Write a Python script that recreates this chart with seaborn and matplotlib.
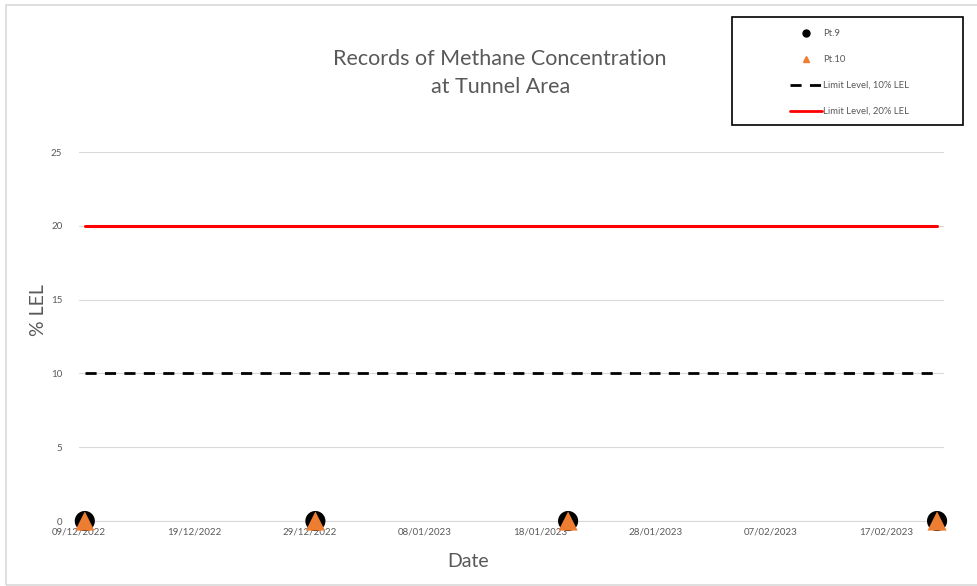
import pandas as pd
import matplotlib.pyplot as plt
import matplotlib.dates as mdates
import seaborn as sns
from matplotlib.lines import Line2D
from matplotlib.patches import Rectangle

# sampling dates and readings (% LEL)
dates = pd.to_datetime(['2022-12-09 12:00', '2022-12-29 12:00',
                        '2023-01-20 10:00', '2023-02-21 10:00'])
pt9 = [0, 0, 0, 0]
pt10 = [0, 0, 0, 0]
limit_10 = [10, 10, 10, 10]
limit_20 = [20, 20, 20, 20]

df = pd.DataFrame({'Date': dates, 'Pt.9': pt9, 'Pt.10': pt10,
                   'Limit 10': limit_10, 'Limit 20': limit_20})

sns.set_style('white')
plt.rcParams['font.family'] = ['Lato', 'DejaVu Sans']
grey = '#595959'

fig = plt.figure(figsize=(9.77, 5.86), dpi=100)
ax = fig.add_axes([0.0809, 0.1109, 0.966 - 0.0809, 0.7406 - 0.1109])

sns.lineplot(data=df, x='Date', y='Limit 10', ax=ax, color='black',
             linewidth=2, linestyle=(0, (4, 3)))
sns.lineplot(data=df, x='Date', y='Limit 20', ax=ax, color='#ff0000', linewidth=2.2)
sns.scatterplot(data=df, x='Date', y='Pt.9', ax=ax, color='black', marker='o',
                s=210, edgecolor='none', clip_on=False, zorder=5)
sns.scatterplot(data=df, x='Date', y='Pt.10', ax=ax, color='#ed7d31', marker='^',
                s=190, edgecolor='none', clip_on=False, zorder=6)

ax.set_ylim(0, 25)
ax.set_yticks([0, 5, 10, 15, 20, 25])
start = pd.Timestamp('2022-12-09')
ax.set_xlim(start, start + pd.Timedelta(days=75))
ax.set_xticks(pd.date_range(start, periods=8, freq='10D'))
ax.xaxis.set_major_formatter(mdates.DateFormatter('%d/%m/%Y'))

ax.grid(axis='y', color='#d9d9d9', linewidth=0.8)
ax.set_axisbelow(True)
for s in ['top', 'right', 'left']:
    ax.spines[s].set_visible(False)
ax.spines['bottom'].set_color('#d9d9d9')
ax.tick_params(axis='x', colors=grey, labelsize=7, length=3, direction='in',
               color='#d9d9d9', pad=5)
ax.tick_params(axis='y', colors=grey, labelsize=7, length=0, pad=12)

ax.set_xlabel('Date', fontsize=14, color=grey)
ax.set_ylabel('% LEL', fontsize=14, color=grey)
ax.xaxis.set_label_coords(0.45, -0.087)
ax.yaxis.set_label_coords(-0.037, 0.572)

fig.text(0.512, 0.875, 'Records of Methane Concentration\nat Tunnel Area',
         ha='center', va='center', fontsize=15.5, color=grey, linespacing=1.5)

# legend: black box drawn separately, entries placed inside it
fig.patches.append(Rectangle((732 / 977, 1 - 125 / 586), 231 / 977, 108 / 586,
                             transform=fig.transFigure, fill=False,
                             edgecolor='black', linewidth=1.2))
handles = [
    Line2D([], [], color='black', marker='o', linestyle='none', markersize=5),
    Line2D([], [], color='#ed7d31', marker='^', linestyle='none', markersize=5),
    Line2D([], [], color='black', linewidth=2, linestyle=(0, (4, 3))),
    Line2D([], [], color='#ff0000', linewidth=2),
]
labels = ['Pt.9', 'Pt.10', 'Limit Level, 10% LEL', 'Limit Level, 20% LEL']
fig.legend(handles, labels, loc='upper left', bbox_to_anchor=(790 / 977, 1 - 29 / 586),
           fontsize=6.8, frameon=False, labelcolor=grey, handlelength=3.4,
           handletextpad=0.1, labelspacing=1.8, borderpad=0, borderaxespad=0)

# light border around the chart area
fig.patches.append(Rectangle((0.006, 0.002), 1.2, 0.99, transform=fig.transFigure,
                             fill=False, edgecolor='#d9d9d9', linewidth=1.2))

plt.savefig('out.png', dpi=100)
plt.close()
